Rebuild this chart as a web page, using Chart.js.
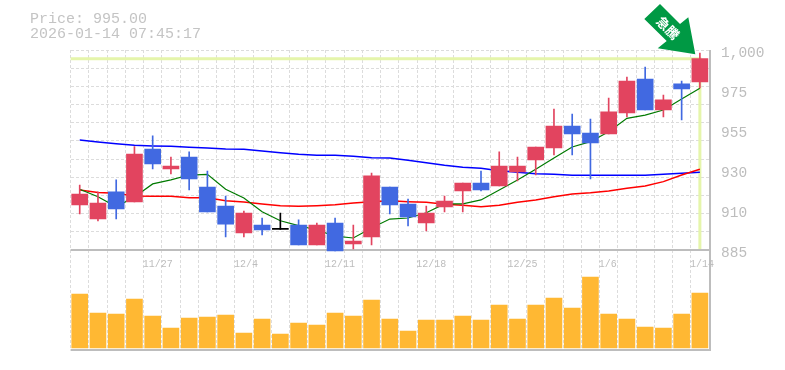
<!DOCTYPE html>
<html>
<head>
<meta charset="utf-8">
<script src="https://cdn.jsdelivr.net/npm/chart.js@4"></script>
<style>
    html, body { margin: 0; padding: 0; background: #fff; overflow: hidden; }
    #wrap { position: relative; width: 785px; height: 370px; }
    #info { position: absolute; left: 30px; top: 12px; font: 15px/15px "Liberation Mono", monospace; color: #c4c4c4; white-space: pre; }
</style>
</head>
<body>
<div id="wrap">
    <canvas id="chart" width="785" height="370"></canvas>
    <div id="info">Price: 995.00
2026-01-14 07:45:17</div>
</div>
<script>
const categories = ["11/21","11/24","11/25","11/26","11/27","11/28","12/1","12/2","12/3","12/4","12/5","12/8","12/9","12/10","12/11","12/12","12/15","12/16","12/17","12/18","12/19","12/22","12/23","12/24","12/25","12/26","12/29","12/30","1/5","1/6","1/7","1/8","1/9","1/13","1/14"];
const shownDates = ["11/27","12/4","12/11","12/18","12/25","1/6","1/14"];

const opens =  [910.9,902.8,918.4,912.6,943.1,931.6,938.5,921.2,910.3,894.8,899.4,896.9,899.4,887.9,900.5,888.5,892.5,921.2,911.4,900.5,909.7,918.9,923.5,921.8,929.9,936.8,943.7,956.3,952.3,951.7,963.8,983.3,965.5,980.5,981.6];
const closes = [917.2,912.0,908.6,940.2,934.5,933.3,925.8,906.9,899.9,906.3,896.5,896.9,887.9,899.4,884.4,890.2,927.6,910.9,904.0,906.3,913.2,923.5,919.5,933.3,933.3,944.2,956.3,951.7,946.5,964.4,982.2,965.5,971.3,977.6,995.0];
const highs =  [922.4,918.4,925.3,944.4,950.6,938.5,941.4,930.4,916.0,907.4,903.4,906.3,902.3,900.5,903.4,899.4,929.3,921.2,914.3,910.3,916.0,923.5,930.4,941.4,938.5,944.2,966.1,963.2,960.3,972.4,984.5,990.2,974.1,982.2,998.3];
const lows =   [905.7,901.7,902.8,912.6,931.6,928.7,919.5,906.9,892.5,892.5,893.6,896.9,887.9,887.9,884.4,885.6,887.9,905.7,898.8,895.9,906.9,906.9,918.9,921.8,924.7,928.1,939.6,939.6,925.8,951.7,961.5,965.5,961.5,959.8,978.2];
const volumes = [54,35,34,49,32,20,30,31,33,15,29,14,25,23,35,32,48,29,17,28,28,32,28,43,29,43,50,40,71,34,29,21,20,34,55];

const maShort = [919.9,915.6,909.9,915.5,923.0,925.3,928.1,928.5,919.9,914.9,907.0,901.8,899.0,896.5,893.0,891.9,897.7,902.8,903.4,906.4,911.5,911.5,913.8,919.5,925.3,931.4,937.9,944.2,947.3,953.0,960.7,962.6,965.5,971.8,978.0];
const maMid = [919.5,918.0,917.6,916.0,915.9,915.9,915.1,915.1,913.3,912.6,911.5,910.5,910.1,910.5,911.0,912.0,912.8,913.3,912.8,912.4,911.3,910.7,909.9,910.7,912.4,913.8,915.6,917.2,917.9,918.9,920.5,921.8,924.3,928.1,931.4];
const maLong = [948.3,947.1,946.1,945.2,944.8,944.6,944.1,943.7,943.1,942.9,941.9,940.9,940.0,939.5,939.5,938.9,938.1,937.9,936.6,935.2,933.7,932.6,932.0,930.6,929.7,928.9,928.5,928.0,928.0,928.0,928.0,928.0,928.5,929.1,929.7];

const priceTicks = [1000,977,954,931,908,885];
const gridValues = [1000,989.55,979.09,968.64,958.18,947.73,937.27,926.82,916.36,905.91,895.45,885];

const lastPrice = 995;
const upColor = "#e2445f", downColor = "#4169e1", flatColor = "#000000";
const candleColors = opens.map((o, i) => closes[i] > o ? upColor : closes[i] < o ? downColor : flatColor);

function roundTo5(v) {
    return (Math.round(v / 5) * 5).toLocaleString("en-US");
}

// highlight lines, panel frame and the arrow are page furniture, tied to the scales
const furniture = {
    id: "furniture",
    beforeDatasetsDraw(chart) {
        const { ctx, scales: { x, y } } = chart;
        const lastX = x.getPixelForValue(categories.length - 1);
        const lastY = y.getPixelForValue(lastPrice);
        ctx.save();
        ctx.strokeStyle = "#e5f5ab";
        ctx.lineWidth = 3;
        ctx.beginPath();
        ctx.moveTo(chart.chartArea.left, lastY);
        ctx.lineTo(lastX, lastY);
        ctx.lineTo(lastX, y.getPixelForValue(885) - 1);
        ctx.stroke();
        ctx.strokeStyle = "#bdbdbd";
        ctx.lineWidth = 2;
        ctx.beginPath();
        ctx.moveTo(chart.chartArea.left, y.getPixelForValue(885));
        ctx.lineTo(710, y.getPixelForValue(885));
        ctx.moveTo(chart.chartArea.left, chart.chartArea.bottom);
        ctx.lineTo(710, chart.chartArea.bottom);
        ctx.moveTo(710, chart.chartArea.top);
        ctx.lineTo(710, chart.chartArea.bottom + 1);
        ctx.stroke();
        ctx.restore();
    },
    afterDraw(chart) {
        const { ctx } = chart;
        ctx.save();
        ctx.fillStyle = "#009944";
        ctx.beginPath();
        ctx.moveTo(695.3, 54.3);
        ctx.lineTo(657.7, 48.3);
        ctx.lineTo(666.7, 41);
        ctx.lineTo(644.3, 19);
        ctx.lineTo(660, 4);
        ctx.lineTo(680, 24);
        ctx.lineTo(688.3, 17.3);
        ctx.closePath();
        ctx.fill();
        ctx.translate(668, 28);
        ctx.rotate(Math.PI / 4);
        ctx.fillStyle = "#ffffff";
        ctx.font = 'bold 13px "Noto Sans CJK JP"';
        ctx.textAlign = "center";
        ctx.textBaseline = "middle";
        ctx.fillText("急騰", 0, 0);
        ctx.restore();
    }
};

new Chart(document.getElementById("chart"), {
    data: {
        labels: categories,
        datasets: [
            { type: "bar", yAxisID: "y", data: opens.map((o, i) => [o, closes[i]]), backgroundColor: candleColors, barThickness: 16, minBarLength: 1, grouped: false, order: 1, clip: 3 },
            { type: "bar", yAxisID: "y", data: lows.map((l, i) => [l, highs[i]]), backgroundColor: candleColors, barThickness: 1, grouped: false, order: 2, clip: 3 },
            { type: "line", yAxisID: "y", data: maShort, borderColor: "#007a00", borderWidth: 1.2, pointRadius: 0, tension: 0, order: 3 },
            { type: "line", yAxisID: "y", data: maMid, borderColor: "#ff0000", borderWidth: 1.5, pointRadius: 0, tension: 0, order: 4 },
            { type: "line", yAxisID: "y", data: maLong, borderColor: "#0000ff", borderWidth: 1.5, pointRadius: 0, tension: 0, order: 5 },
            { type: "bar", yAxisID: "vol", data: volumes, backgroundColor: "#ffb833", barThickness: 16, grouped: false, order: 6 }
        ]
    },
    options: {
        responsive: false,
        animation: false,
        layout: { padding: { top: 50, bottom: 20 } },
        plugins: { legend: { display: false }, tooltip: { enabled: false } },
        scales: {
            x: {
                type: "category",
                position: { y: 885 },
                offset: true,
                grid: { display: true, offset: true, color: "#dcdcdc", drawTicks: false, tickLength: 0 },
                border: { display: false, dash: [3, 2] },
                ticks: {
                    autoSkip: false,
                    maxRotation: 0,
                    align: "start",
                    labelOffset: -10,
                    padding: 8,
                    color: "#bdbdbd",
                    font: { family: '"Liberation Mono"', size: 10 },
                    callback(value) {
                        const label = categories[value];
                        return shownDates.includes(label) ? label : "";
                    }
                }
            },
            y: {
                position: "left",
                min: 827.5,
                max: 1000,
                afterFit(scale) { scale.width = 70.6; },
                afterBuildTicks(scale) { scale.ticks = gridValues.map(value => ({ value })); },
                grid: { color: "#dcdcdc", drawTicks: false },
                border: { display: false, dash: [3, 2] },
                ticks: { display: false }
            },
            y2: {
                position: "right",
                min: 827.5,
                max: 1000,
                afterFit(scale) { scale.width = 76; },
                afterBuildTicks(scale) { scale.ticks = priceTicks.map(value => ({ value })); },
                grid: { display: false },
                border: { display: false },
                ticks: {
                    padding: 4,
                    labelOffset: 3,
                    color: "#bdbdbd",
                    font: { family: '"Liberation Mono"', size: 14.5 },
                    callback: value => roundTo5(value)
                }
            },
            vol: {
                display: false,
                min: -2,
                max: 298
            }
        }
    },
    plugins: [furniture]
});
</script>
</body>
</html>
